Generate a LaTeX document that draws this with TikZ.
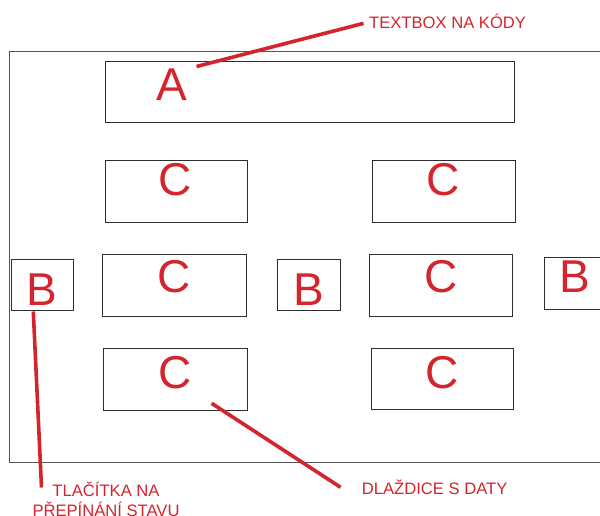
\documentclass[tikz,border=0pt]{standalone}
\usepackage{fontspec}
\setmainfont{Liberation Sans}
\definecolor{callred}{RGB}{212,36,46}
\definecolor{boxline}{RGB}{45,45,45}
\definecolor{frameline}{RGB}{85,85,85}
\begin{document}
\begin{tikzpicture}[x=1pt,y=-1pt,
  panel/.style={draw=boxline, line width=1.1pt, inner sep=0pt, anchor=north west},
  big/.style={text=callred, inner sep=0pt, anchor=base, font=\fontsize{46}{46}\selectfont},
  note/.style={text=callred, inner sep=0pt, font=\fontsize{16.6}{20}\selectfont},
  leader/.style={draw=callred, line width=3.6pt}]
  % page area
  \clip (0,0) rectangle (600,515);
  \useasboundingbox (0,0) rectangle (600,515);
  \fill[white] (0,0) rectangle (600,515);

  % outer screen frame (runs past the right edge)
  \node[draw=frameline, line width=1.3pt, inner sep=0pt, anchor=north west,
        minimum width=640pt, minimum height=411pt] (screen) at (8.7,50.7) {};

  % code text box
  \node[panel, minimum width=409pt, minimum height=61pt] (boxA) at (105,60.7) {};
  % data tiles
  \node[panel, minimum width=142.6pt, minimum height=61.7pt] (c11) at (104.7,160) {};
  \node[panel, minimum width=143pt, minimum height=61.7pt] (c12) at (371.7,160) {};
  \node[panel, minimum width=143.7pt, minimum height=61.7pt] (c21) at (102,254) {};
  \node[panel, minimum width=143pt, minimum height=62pt] (c22) at (369,254) {};
  \node[panel, minimum width=143.4pt, minimum height=62pt] (c31) at (103.3,347.5) {};
  \node[panel, minimum width=142.6pt, minimum height=61.6pt] (c32) at (370.7,347.7) {};
  % state buttons
  \node[panel, minimum width=62.3pt, minimum height=50.7pt] (b1) at (10.7,259.3) {};
  \node[panel, minimum width=63pt, minimum height=51pt] (b2) at (277,259.3) {};
  \node[panel, minimum width=80pt, minimum height=52pt] (b3) at (544,257) {};

  % letters
  \node[big] (lA) at (172,100) {A};
  \node[big] (l11) at (175.6,195.5) {C};
  \node[big] (l12) at (443.3,195.5) {C};
  \node[big] (l21) at (173.8,292.4) {C};
  \node[big] (l22) at (441.3,292.4) {C};
  \node[big] (l31) at (174.8,388) {C};
  \node[big] (l32) at (441.8,388) {C};
  \node[big] (lb1) at (42,305) {B};
  \node[big] (lb2) at (308.4,305) {B};
  \node[big] (lb3) at (575,292.3) {B};

  % callout labels
  \node[note, anchor=base west] (tA) at (369,28.3) {TEXTBOX NA KÓDY};
  \node[note, anchor=base west] (tC) at (361.7,494.2) {DLAŽDICE S DATY};
  \node[note, anchor=north, align=center] (tB) at (106,481.5) {TLAČÍTKA NA\\PŘEPÍNÁNÍ STAVU};

  % leader line ends
  \coordinate (pA) at (196.5,66.5);
  \coordinate (eA) at (363.6,23.3);
  \coordinate (pC) at (211.6,403.3);
  \coordinate (eC) at (340.6,487.3);
  \coordinate (pB) at (33.3,311.5);
  \coordinate (eB) at (41.5,487.5);

  \draw[leader] (pA) -- (eA);
  \draw[leader] (pC) -- (eC);
  \draw[leader] (pB) -- (eB);
\end{tikzpicture}
\end{document}
